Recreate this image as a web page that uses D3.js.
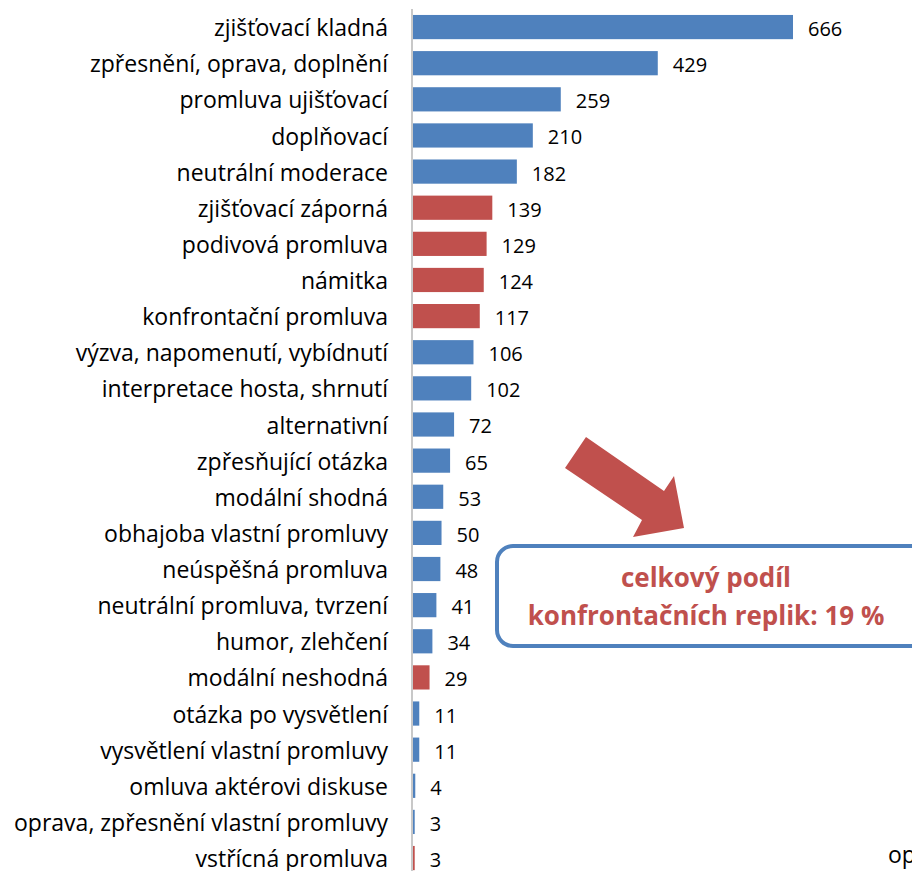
<!DOCTYPE html>
<meta charset="utf-8">
<style>
body { margin: 0; background: #fff; }
text { font-family: "Open Sans", "Noto Sans", sans-serif; }
.label { font-size: 23px; fill: #000; }
.val { font-size: 20px; fill: #000; }
.note { font-size: 26px; font-weight: bold; fill: #C0504D; }
</style>
<body>
<script src="https://d3js.org/d3.v7.min.js"></script>
<script>
var categories = ["zjišťovací kladná", "zpřesnění, oprava, doplnění", "promluva ujišťovací",
  "doplňovací", "neutrální moderace", "zjišťovací záporná", "podivová promluva", "námitka",
  "konfrontační promluva", "výzva, napomenutí, vybídnutí", "interpretace hosta, shrnutí",
  "alternativní", "zpřesňující otázka", "modální shodná", "obhajoba vlastní promluvy",
  "neúspěšná promluva", "neutrální promluva, tvrzení", "humor, zlehčení", "modální neshodná",
  "otázka po vysvětlení", "vysvětlení vlastní promluvy", "omluva aktérovi diskuse",
  "oprava, zpřesnění vlastní promluvy", "vstřícná promluva"];
var values = [666, 429, 259, 210, 182, 139, 129, 124, 117, 106, 102, 72, 65, 53, 50, 48, 41, 34, 29, 11, 11, 4, 3, 3];
var confrontational = ["zjišťovací záporná", "podivová promluva", "námitka", "konfrontační promluva",
  "modální neshodná", "vstřícná promluva"];
var noteLines = ["celkový podíl", "konfrontačních replik: 19 %"];

var W = 912, H = 871;
var svg = d3.select("body").append("svg").attr("width", W).attr("height", H);

var x0 = 413;
var x = d3.scaleLinear().domain([0, 666]).range([x0, 793]);
var y = d3.scaleBand().domain(categories).range([9, 9 + 36.13 * 24]).paddingInner(0.33).paddingOuter(0.165);

// axis line
svg.append("line")
    .attr("x1", x0 - 1).attr("x2", x0 - 1)
    .attr("y1", 9).attr("y2", H)
    .attr("stroke", "#c8c8c8").attr("stroke-width", 2);

svg.selectAll(".bar")
  .data(categories)
  .enter().append("rect")
    .attr("class", "bar")
    .attr("x", x0)
    .attr("y", function(d) { return y(d); })
    .attr("width", function(d, i) { return x(values[i]) - x0; })
    .attr("height", y.bandwidth())
    .attr("fill", function(d) { return confrontational.indexOf(d) >= 0 ? "#C0504D" : "#4F81BD"; });

svg.selectAll(".label")
  .data(categories)
  .enter().append("text")
    .attr("class", "label")
    .attr("x", 388)
    .attr("y", function(d) { return y(d) + y.bandwidth() / 2 + 1; })
    .attr("dy", "0.35em")
    .attr("text-anchor", "end")
    .text(function(d) { return d; });

svg.selectAll(".val")
  .data(categories)
  .enter().append("text")
    .attr("class", "val")
    .attr("x", function(d, i) { return x(values[i]) + 15; })
    .attr("y", function(d) { return y(d) + y.bandwidth() / 2 + 2; })
    .attr("dy", "0.35em")
    .text(function(d, i) { return values[i]; });

// arrow
svg.append("polygon")
    .attr("points", "586,437 565,468 642,520 633,537 684,528 674,476 664,491")
    .attr("fill", "#C0504D");

// callout box
svg.append("rect")
    .attr("x", 497).attr("y", 546)
    .attr("width", 430).attr("height", 100)
    .attr("rx", 16).attr("ry", 16)
    .attr("fill", "#fff")
    .attr("stroke", "#4F81BD").attr("stroke-width", 4);

svg.selectAll(".note")
  .data(noteLines)
  .enter().append("text")
    .attr("class", "note")
    .attr("x", 706)
    .attr("y", function(d, i) { return 587 + i * 38; })
    .attr("text-anchor", "middle")
    .text(function(d) { return d; });

svg.append("text")
    .attr("class", "label")
    .attr("x", 888).attr("y", 863)
    .text("op");
</script>
</body>
